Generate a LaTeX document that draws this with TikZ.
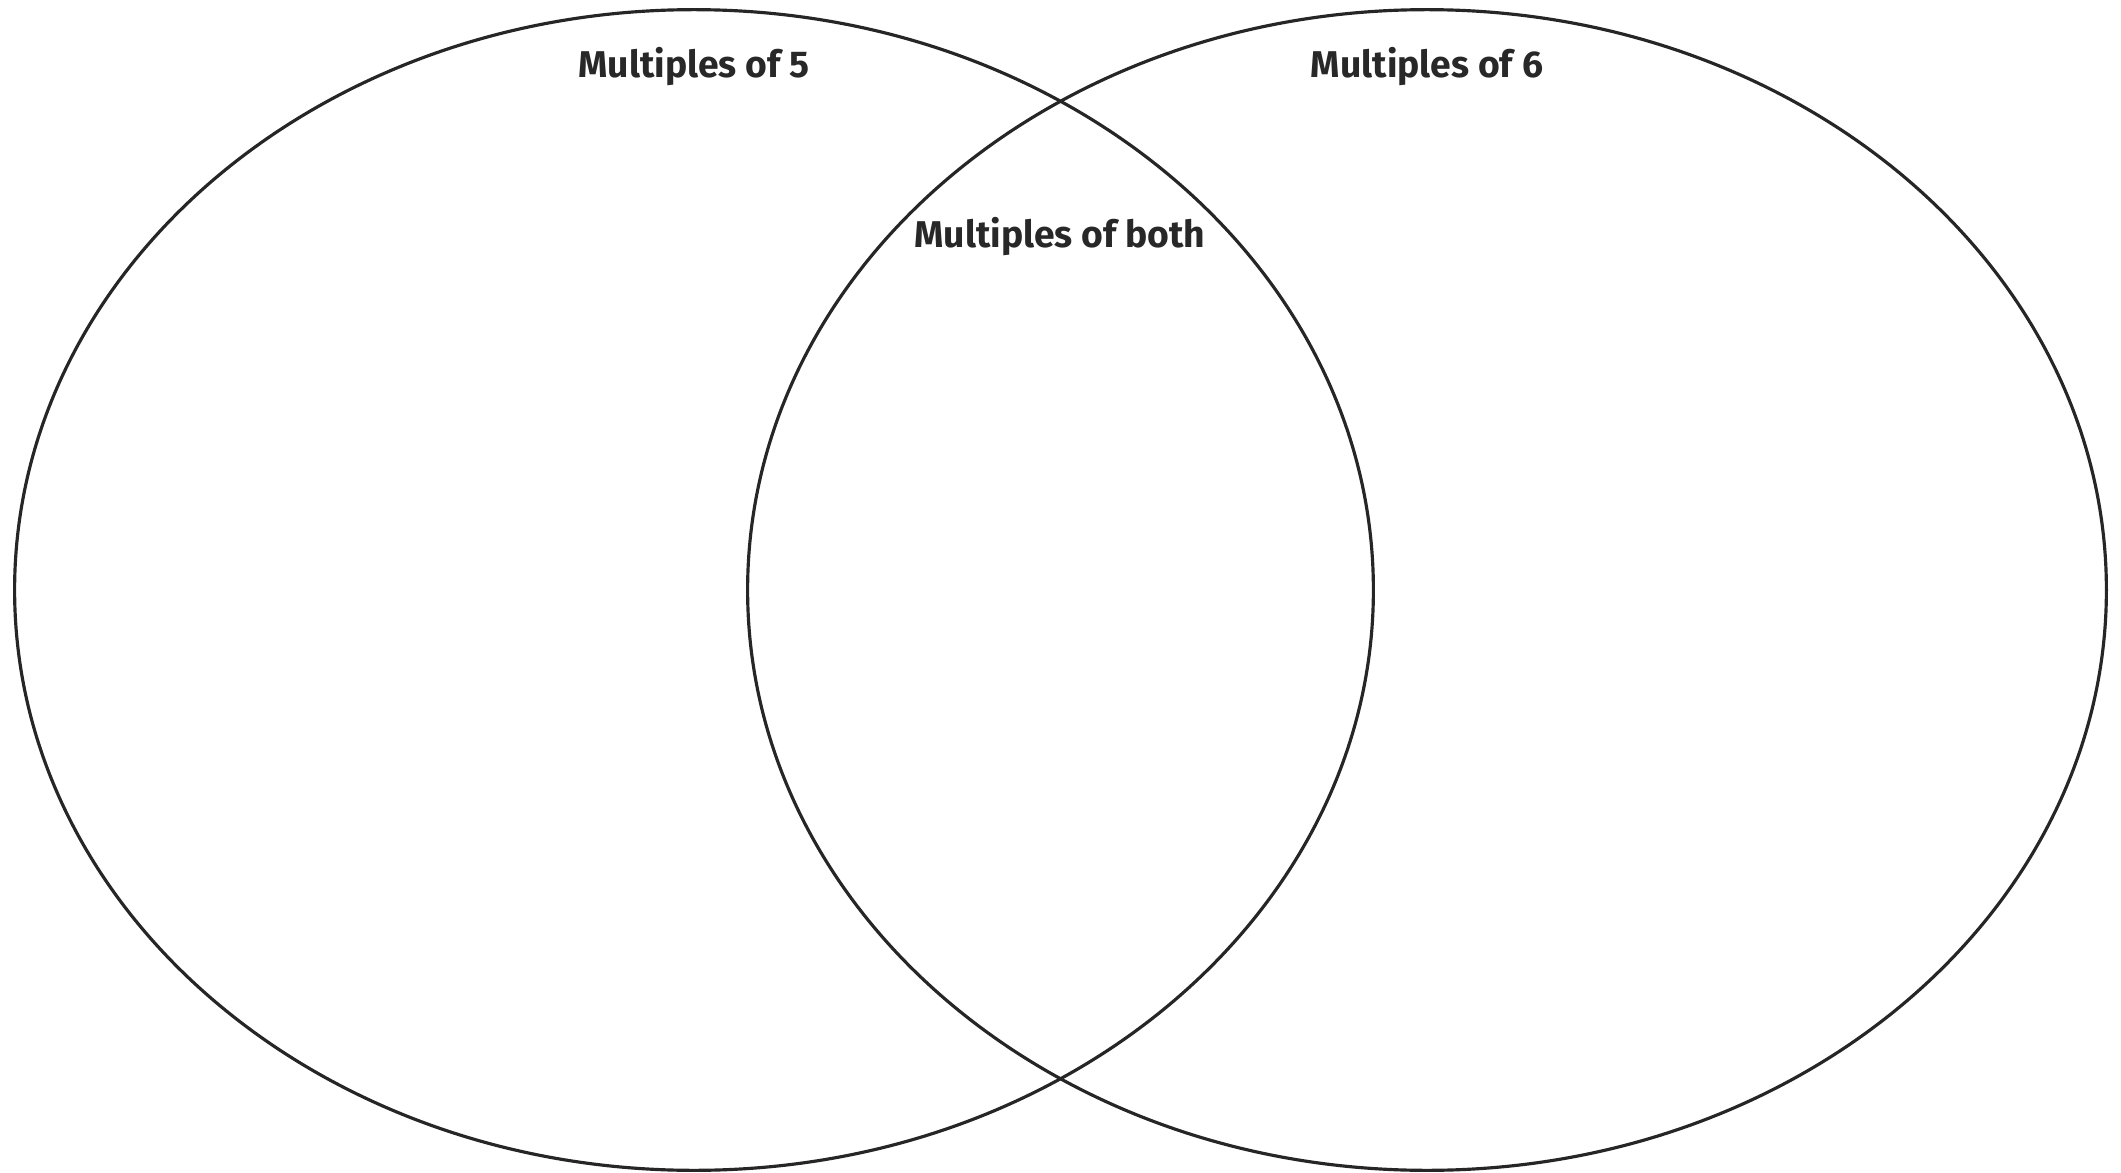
\documentclass[tikz,border=0pt]{standalone}
\usepackage{fontspec}
\setsansfont{Fira Sans}
\usepackage{tikz}
\definecolor{vennline}{RGB}{38,38,38}
\definecolor{venntext}{RGB}{40,40,40}

\begin{document}
\begin{tikzpicture}[x=0.01cm, y=-0.01cm,
    setring/.style={draw=vennline, line width=0.9pt},
    setlabel/.style={font=\sffamily\bfseries\fontsize{10.6}{13}\selectfont, text=venntext}]
    % canvas
    \useasboundingbox (0,0) rectangle (2121,1173);

    % the two sets
    \draw[setring] (694,590) ellipse [x radius=6.79cm, y radius=5.80cm];
    \draw[setring] (1427,590) ellipse [x radius=6.79cm, y radius=5.80cm];

    % labels
    \node[setlabel] (fives) at (694,67) {Multiples of 5};
    \node[setlabel] (sixes) at (1427,67) {Multiples of 6};
    \node[setlabel] (both) at (1060,237) {Multiples of both};
\end{tikzpicture}
\end{document}
